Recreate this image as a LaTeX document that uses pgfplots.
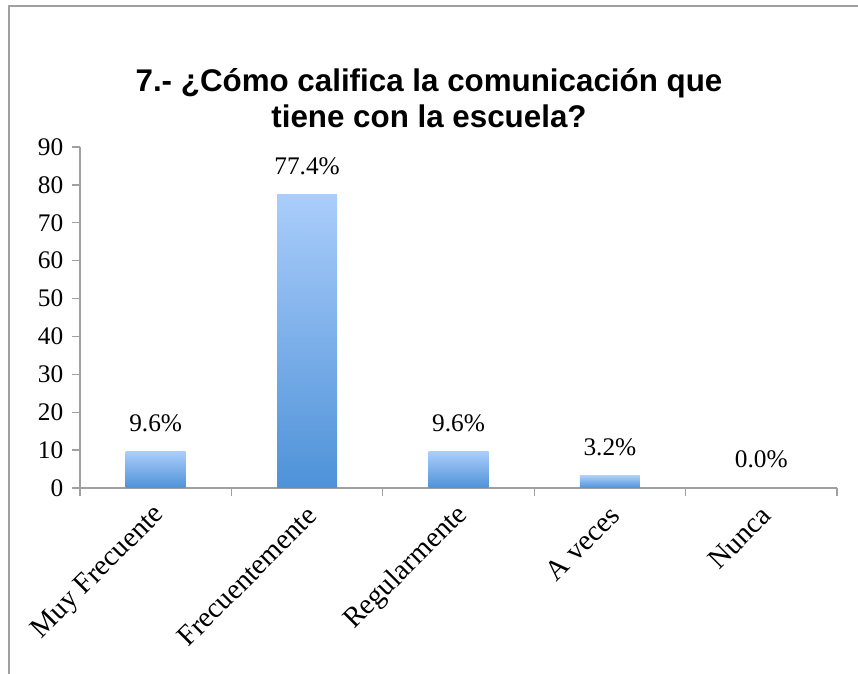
\documentclass[border=0pt]{standalone}
\usepackage{pgfplots}
\pgfplotsset{compat=1.18}
\usepackage{fontspec}
\setmainfont{Liberation Serif}
\newfontfamily\titlefont{Liberation Sans}
\definecolor{axgray}{HTML}{A0A0A0}
\definecolor{bartop}{HTML}{AACDFB}
\definecolor{barbot}{HTML}{4E92D8}
\begin{document}
\begin{tikzpicture}[x=0.75pt,y=0.75pt]
\useasboundingbox (0,0) rectangle (858,674);
\draw[axgray, line width=1.5pt] (9,0) -- (9,668) -- (858,668);
\node[font=\titlefont\bfseries\fontsize{23.5}{27}\selectfont, align=center] at (429,576) {7.- ¿Cómo califica la comunicación que\\tiene con la escuela?};
\begin{axis}[
  at={(60pt,139.5pt)}, anchor=south west,
  scale only axis, width=567.75pt, height=255.75pt,
  xmin=-0.5, xmax=4.5, ymin=0, ymax=90,
  ytick={0,10,...,90},
  xtick={0,1,2,3,4},
  xticklabels={Muy Frecuente,Frecuentemente,Regularmente,A veces,Nunca},
  axis x line*=bottom, axis y line*=left,
  axis line style={-, draw=axgray, line width=1pt},
  tick style={axgray, line width=1pt},
  tick align=outside,
  x tick style={draw=none},
  major tick length=6pt,
  extra x ticks={-0.5,0.5,1.5,2.5,3.5,4.5},
  extra x tick labels={},
  extra x tick style={x tick style={draw=axgray}, major tick length=6pt},
  /pgf/number format/assume math mode=true,
  tick label style={font=\fontsize{19}{22}\selectfont},
  yticklabel style={xshift=-3pt},
  xticklabel style={font=\fontsize{21.5}{24}\selectfont, xshift=6pt, yshift=-9pt, rotate=45, anchor=east},
  ybar, bar shift=0pt, bar width=45pt,
  nodes near coords={\pgfmathprintnumber[fixed,fixed zerofill,precision=1]{\pgfplotspointmeta}\%},
  every node near coord/.append style={font=\fontsize{19}{22}\selectfont, anchor=base, yshift=15pt},
]
\addplot[draw=none, top color=bartop, bottom color=barbot] coordinates {(0,9.6)};
\addplot[draw=none, top color=bartop, bottom color=barbot] coordinates {(1,77.4)};
\addplot[draw=none, top color=bartop, bottom color=barbot] coordinates {(2,9.6)};
\addplot[draw=none, top color=bartop, bottom color=barbot] coordinates {(3,3.2)};
\addplot[draw=none, top color=bartop, bottom color=barbot] coordinates {(4,0)};
\end{axis}
\end{tikzpicture}
\end{document}
